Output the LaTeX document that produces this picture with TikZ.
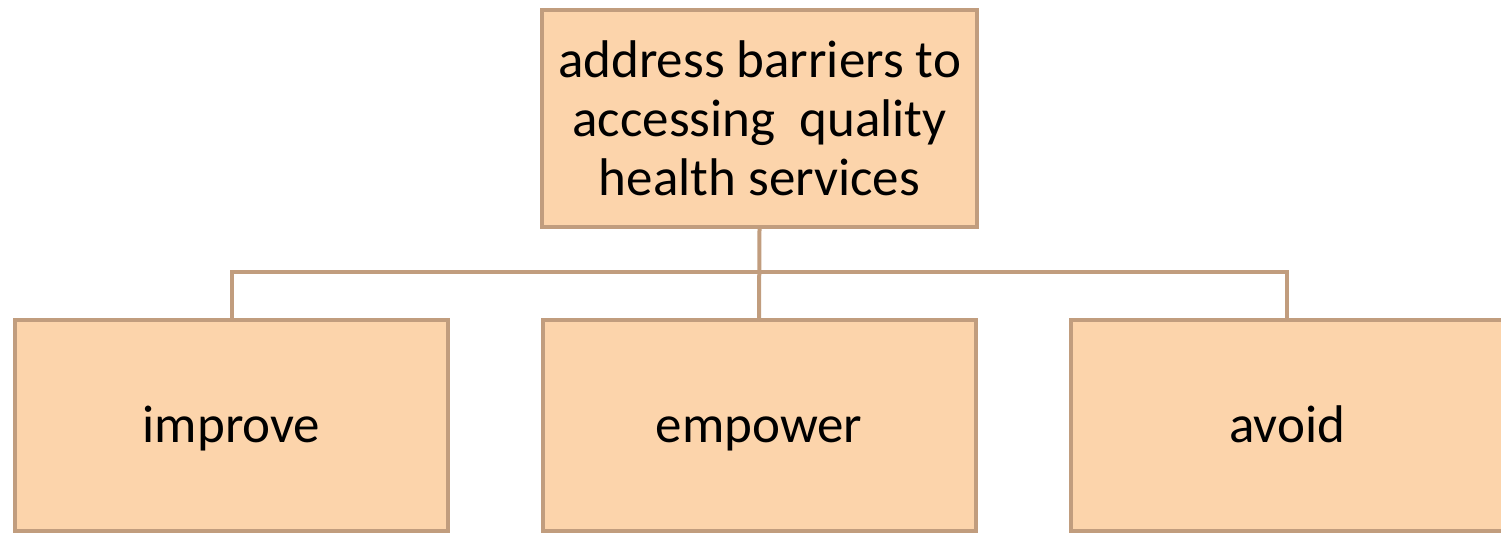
\documentclass[tikz,border=0pt]{standalone}
\usepackage{fontspec}
\setmainfont{Carlito}
\definecolor{boxfill}{HTML}{FCD4AB}
\definecolor{boxline}{HTML}{C19D7E}
\begin{document}
\begin{tikzpicture}[x=1pt,y=-1pt,
  box/.style={draw=boxline,fill=boxfill,line width=4pt,rectangle,
    align=center,inner sep=0pt,font=\fontsize{53}{59}\selectfont},
  topbox/.style={box,minimum width=435pt,minimum height=217pt},
  leafbox/.style={box,minimum width=433pt,minimum height=211pt,
    text height=42pt,text depth=9pt},
  conn/.style={draw=boxline,line width=4pt}]
  \useasboundingbox (0,0) rectangle (1501,537);
  % parent goal
  \node[topbox] (goal) at (759.5,118.5)
    {address barriers to\\accessing~ quality\\health services};
  % three actions
  \node[leafbox] (improve) at (231.5,425.5) {improve};
  \node[leafbox] (empower) at (759,425.5) {empower};
  \node[leafbox] (avoid) at (1287,425.5) {avoid};
  % tree connectors
  \coordinate (bus) at (759.5,272);
  \draw[conn] (goal.south) -- (empower.north);
  \draw[conn] (goal.south |- bus) -| (improve.north);
  \draw[conn] (goal.south |- bus) -| (avoid.north);
\end{tikzpicture}
\end{document}
